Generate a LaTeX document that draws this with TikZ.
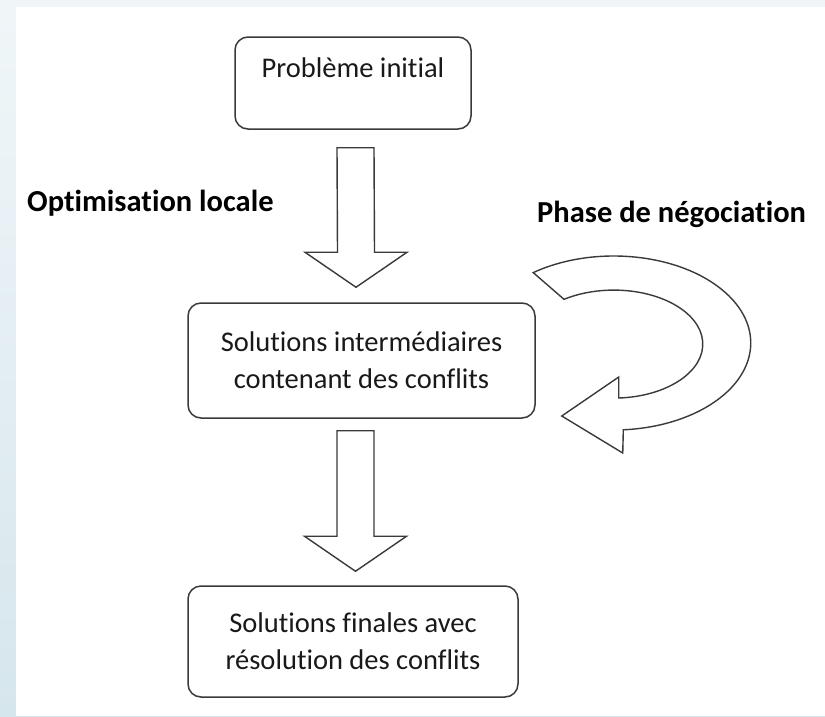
\documentclass[tikz,border=0pt]{standalone}
\usepackage{fontspec}
\setmainfont[Ligatures=NoCommon]{Carlito}
\usetikzlibrary{calc}
\definecolor{edgegray}{HTML}{3A3A3A}
\definecolor{bgtop}{HTML}{F0F6F8}
\definecolor{bgbottom}{HTML}{D6E6ED}
\tikzset{
  box/.style={draw=edgegray, line width=1.5pt, rounded corners=13pt, fill=white,
    align=center, font=\fontsize{28.5}{37}\selectfont, text=black!90, inner sep=0pt},
  blk/.style={draw=edgegray, line width=1.4pt, fill=white, line join=miter},
  lbl/.style={font=\fontsize{30.5}{36}\selectfont\bfseries, text=black, inner sep=0pt, anchor=base west}
}
\begin{document}
\begin{tikzpicture}[x=1pt,y=-1pt]
  \useasboundingbox (0,0) rectangle (825,716);
  % page background and white sheet
  \shade[top color=bgtop, bottom color=bgbottom] (0,0) rectangle (825,716);
  \fill[white] (16,7) rectangle (825,716);

  % boxes
  \node[box, minimum width=236pt, text height=40pt, text depth=52pt] (p1) at (353,83) {Problème initial};
  \node[box, minimum width=347pt, minimum height=115pt] (p2) at (361.5,360.5)
    {Solutions intermédiaires\\contenant des conflits};
  \node[box, minimum width=330pt, minimum height=111pt] (p3) at (353,641.5)
    {Solutions finales avec\\résolution des conflits};

  % labels
  \node[lbl] (optlbl) at (27,211) {Optimisation locale};
  \node[lbl] (neglbl) at (537,222) {Phase de négociation};

  % block arrow p1 -> p2
  \coordinate (a1s) at ($(p1.south)+(2.5,18)$);
  \coordinate (a1t) at ($(p2.north)+(-5.5,-15)$);
  \draw[blk] ($(a1s)+(-18.5,0)$) -- ($(a1s)+(18.5,0)$) -- ($(a1t)+(18.5,-35)$)
    -- ($(a1t)+(51,-35)$) -- (a1t) -- ($(a1t)+(-51,-35)$) -- ($(a1t)+(-18.5,-35)$) -- cycle;

  % block arrow p2 -> p3
  \coordinate (a2s) at ($(p2.south)+(-6,12)$);
  \coordinate (a2t) at ($(p3.north)+(2.5,-14)$);
  \draw[blk] ($(a2s)+(-18.5,0)$) -- ($(a2s)+(18.5,0)$) -- ($(a2t)+(18.5,-35)$)
    -- ($(a2t)+(51,-35)$) -- (a2t) -- ($(a2t)+(-51,-35)$) -- ($(a2t)+(-18.5,-35)$) -- cycle;

  % curved loop arrow on p2
  \coordinate (lc) at ($(p2.east)+(78,-17.5)$);
  \draw[blk] ($(lc)+(234:137 and 87)$)
      arc[start angle=234, end angle=446, x radius=137, y radius=87]
      -- ($(lc)+(9,110)$) -- ($(lc)+(-52,73)$) -- ($(lc)+(5,34)$) -- ($(lc)+(5,55)$)
      arc[start angle=86.8, end angle=-124, x radius=89, y radius=54]
      -- cycle;
\end{tikzpicture}
\end{document}
